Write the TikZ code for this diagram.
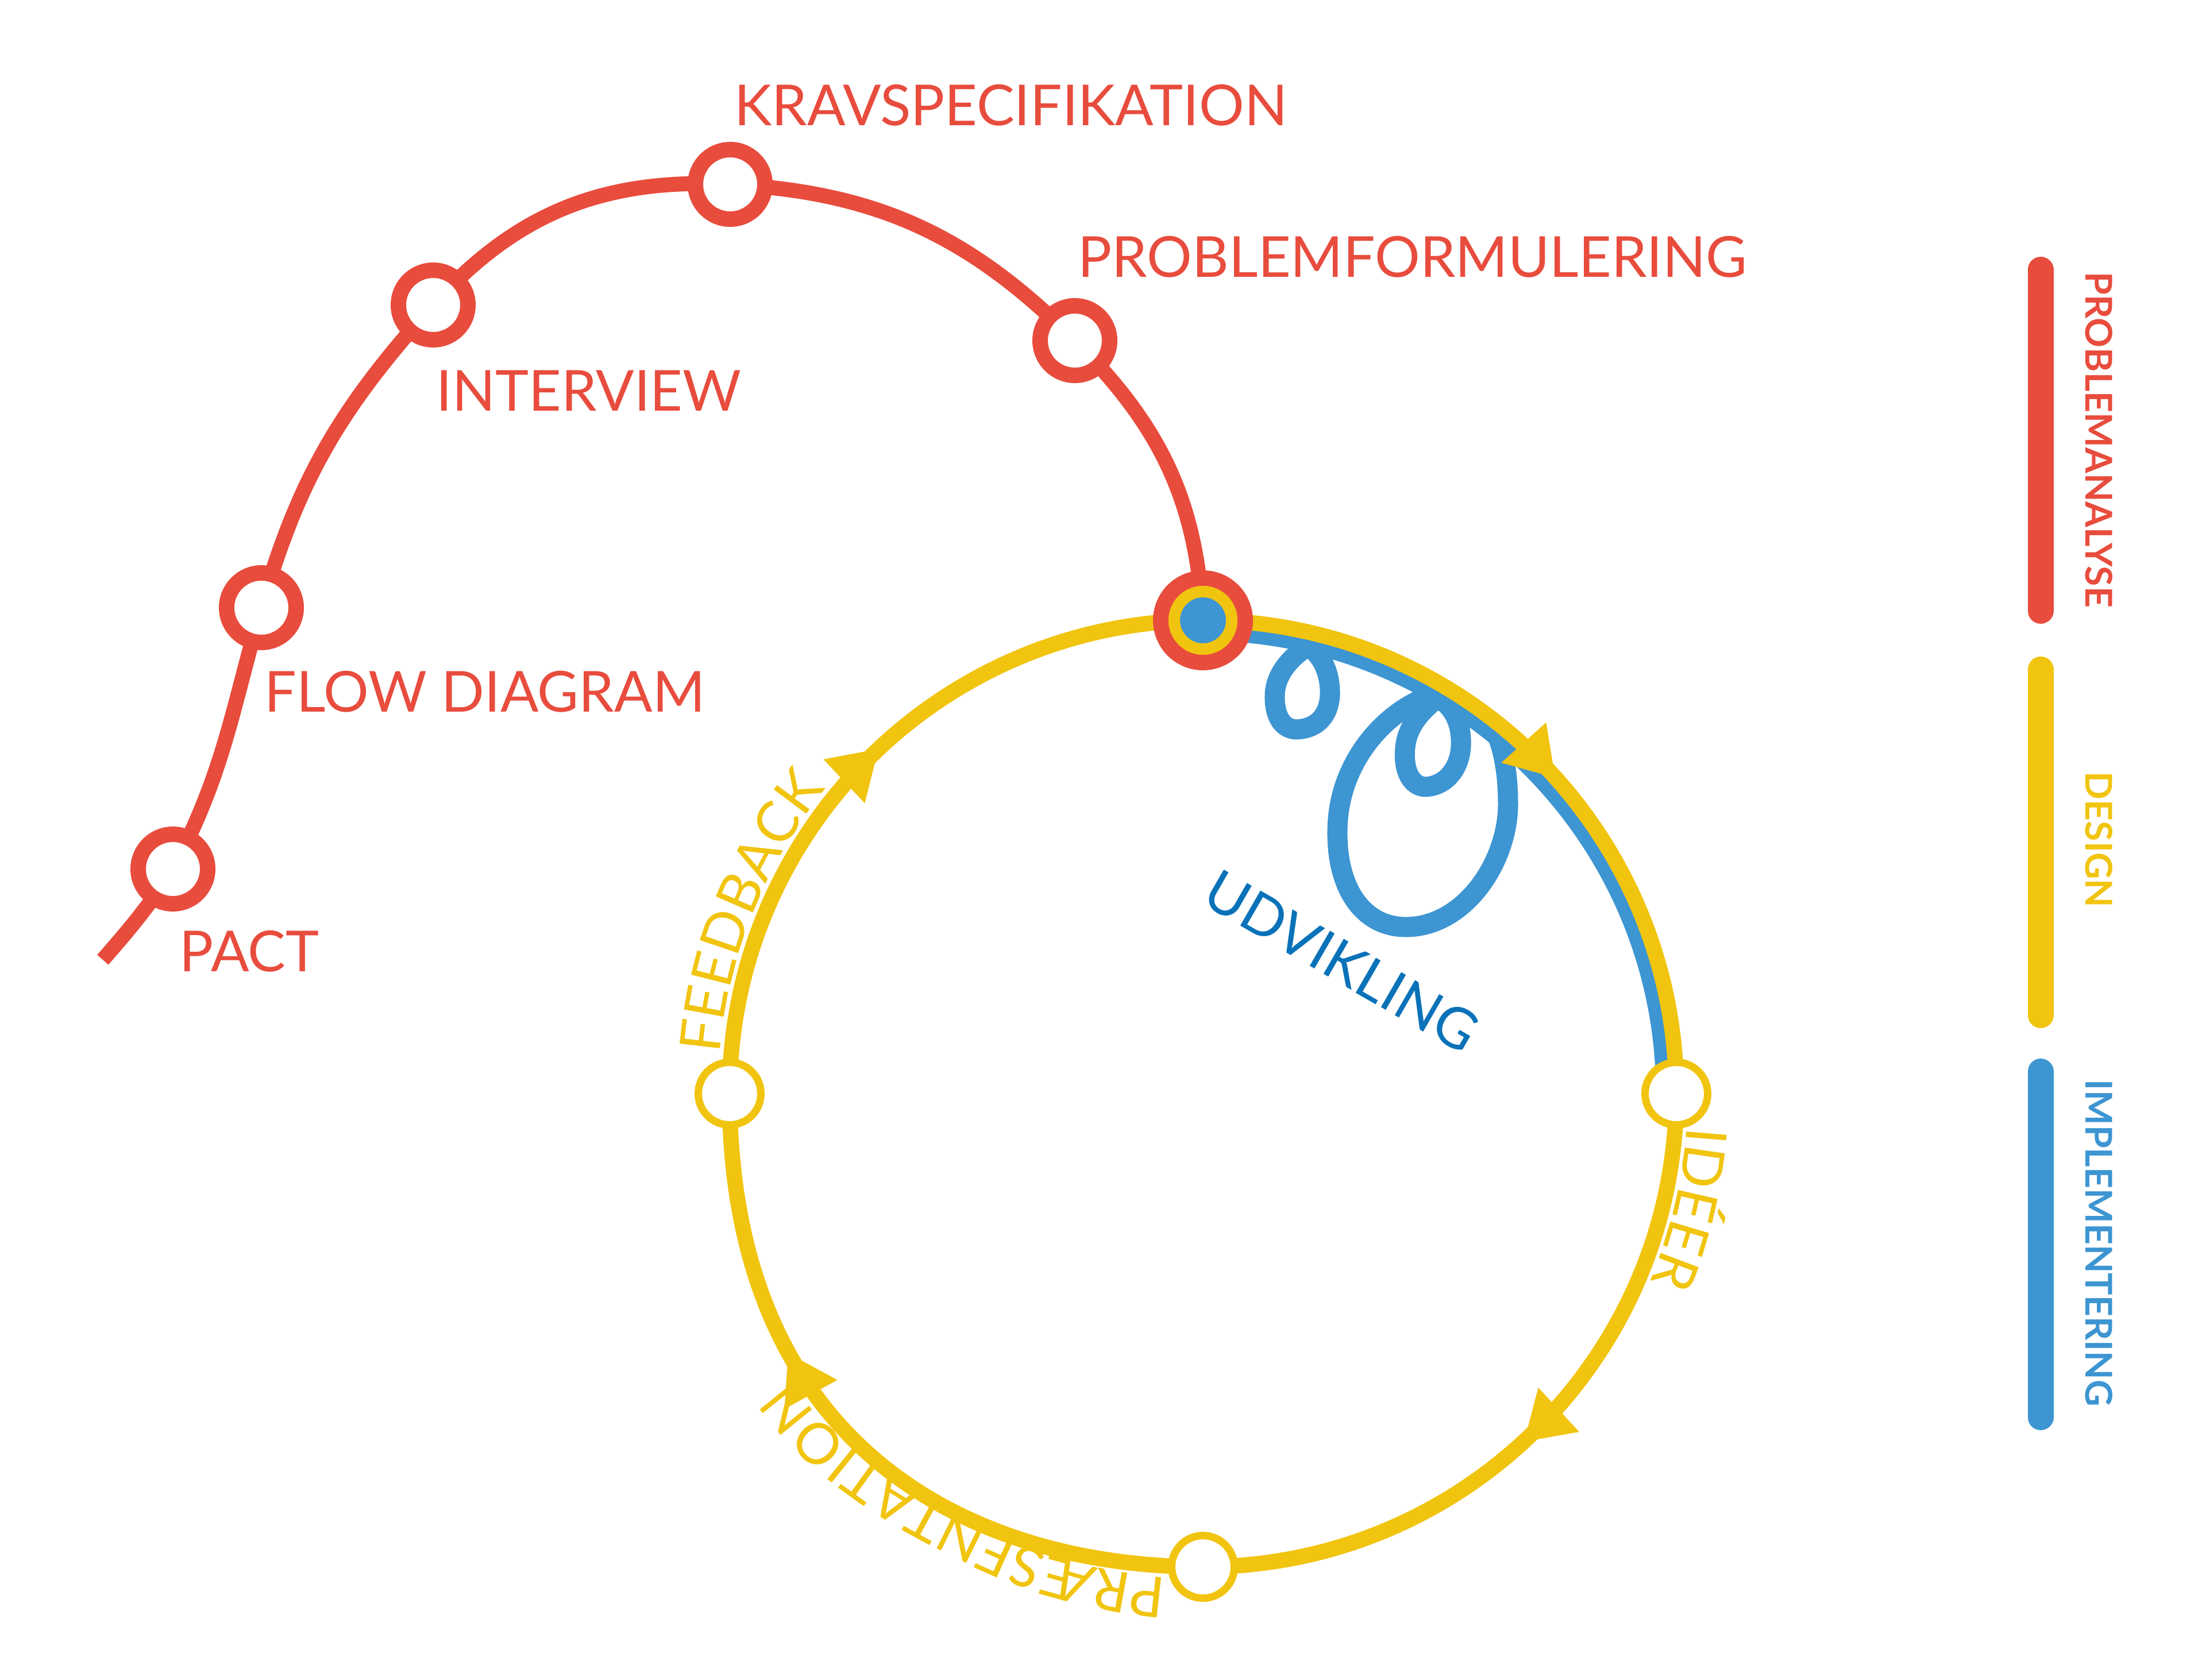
\documentclass[tikz,border=0pt]{standalone}
\usepackage{fontspec}
\setmainfont{Lato}
\usetikzlibrary{decorations.text,calc}
\definecolor{rd}{HTML}{E84C3D}
\definecolor{ylw}{HTML}{F1C40F}
\definecolor{bl}{HTML}{3D95D2}
\definecolor{dbl}{HTML}{0A72B8}
\pgfdeclarelayer{bg}
\pgfsetlayers{bg,main}
\tikzset{
 rnode/.style={circle, draw=rd, line width=0.27cm, fill=white, minimum size=1.21cm, inner sep=0pt},
 ynode/.style={circle, draw=ylw, line width=0.13cm, fill=white, minimum size=1.09cm, inner sep=0pt},
 rlabel/.style={text=rd, font=\fontsize{28}{34}\selectfont, anchor=base west, inner sep=0pt},
 rpath/.style={draw=rd, line width=0.26cm},
 ypath/.style={draw=ylw, line width=0.27cm},
 bpath/.style={draw=bl, line width=0.35cm, line join=round, line cap=round},
 legtext/.style={font=\fontsize{18.3}{22}\selectfont\bfseries, rotate=-90, anchor=base, inner sep=0pt},
 legbar/.style={line width=0.45cm, line cap=round},
 yarrow/.pic={\fill[ylw] (0,0) -- (-0.82,0.525) -- (-0.82,-0.525) -- cycle;}
}
\begin{document}
\begin{tikzpicture}
\useasboundingbox (0,0) rectangle (38.40,-29.24);
\begin{pgfonlayer}{bg}
\fill[white] (0,0) rectangle (38.40,-29.24);
\end{pgfonlayer}

% nodes
\node[rnode] (pact) at (3.01,-15.13) {};
\node[rnode] (flow) at (4.55,-10.58) {};
\node[rnode] (intv) at (7.54,-5.31) {};
\node[rnode] (krav) at (12.71,-3.21) {};
\node[rnode] (probf) at (18.71,-5.93) {};
\node[circle, draw=rd, line width=0.27cm, fill=ylw, minimum size=1.47cm, inner sep=0pt] (junc) at (20.94,-10.80) {};
\node[circle, draw=ylw, line width=0.2cm, fill=bl, minimum size=1.0cm, inner sep=0pt] (juncin) at (junc) {};
\node[ynode] (idea) at (29.18,-19.04) {};
\node[ynode] (prae) at (20.94,-27.28) {};
\node[ynode] (fdbk) at (12.70,-19.04) {};
\coordinate (ctr) at (20.94,-19.04);
\coordinate (rstart) at (1.79,-16.71);

\begin{pgfonlayer}{bg}
% red line
\draw[rpath] (rstart) to[out=49,in=237] (pact.center)
  to[out=62,in=254] (flow.center)
  to[out=74,in=228] (intv.center)
  to[out=48,in=177] (krav.center)
  to[out=-3,in=135] (probf.center)
  to[out=-45,in=93] (junc.center);
% blue line with loops
\draw[bpath] ($(junc.center)+(0,-0.18)$) arc[start angle=90, end angle=0, radius=8.06];
\draw[bpath] (22.77,-11.25) .. controls (23.00,-11.40) and (23.16,-11.70) .. (23.15,-12.10)
  .. controls (23.13,-12.50) and (22.88,-12.70) .. (22.55,-12.70)
  .. controls (22.28,-12.68) and (22.18,-12.40) .. (22.19,-12.10)
  .. controls (22.20,-11.75) and (22.45,-11.45) .. cycle;
\draw[bpath] (25.03,-12.15) .. controls (25.30,-12.30) and (25.45,-12.60) .. (25.43,-13.00)
  .. controls (25.40,-13.45) and (25.10,-13.70) .. (24.80,-13.70)
  .. controls (24.55,-13.68) and (24.44,-13.40) .. (24.455,-13.10)
  .. controls (24.46,-12.70) and (24.70,-12.40) .. cycle;
\draw[bpath] (25.00,-12.08) .. controls (24.20,-12.30) and (23.30,-13.20) .. (23.28,-14.44)
  .. controls (23.26,-15.50) and (23.75,-16.14) .. (24.47,-16.14)
  .. controls (25.50,-16.14) and (26.25,-15.00) .. (26.25,-14.00)
  .. controls (26.25,-13.50) and (26.18,-13.10) .. (26.07,-12.83);
% yellow cycle
\draw[ypath] (junc.center) arc[start angle=90,end angle=-90,radius=8.24]
  .. controls +(-4.0,0) and +(0,-6.2) .. (fdbk.center)
  arc[start angle=180,end angle=90,radius=8.24];
\pic[rotate=-48.1] at (27.07,-13.54) {yarrow};
\pic[rotate=-137.3] at (26.53,-25.10) {yarrow};
\pic[rotate=118.8] at (13.72,-23.56) {yarrow};
\pic[rotate=43.3] at (15.29,-13.04) {yarrow};
\end{pgfonlayer}

% curved labels
\path[decorate, decoration={text along path, text align=left,
  text={|\color{ylw}\fontsize{28}{34}\selectfont|FEEDBACK}}]
  ($(ctr)+(175.3:8.44)$) arc[start angle=175.3, end angle=115, radius=8.44];
\path[decorate, decoration={text along path, text align=left,
  text={|\color{ylw}\fontsize{28}{34}\selectfont|IDÉER}}]
  ($(ctr)+(-3.9:8.44)$) arc[start angle=-3.9, end angle=-50, radius=8.44];
\path[decorate, decoration={text along path, text align=left,
  text={|\color{ylw}\fontsize{28}{34}\selectfont|PRÆSENTATION}}]
  ($(ctr)+(-94.3:8.45)$) arc[start angle=-94.3, end angle=-115, radius=8.45]
  .. controls +(155:3.2) and +(0,-4.8) .. ($(ctr)+(-8.455,0)$) -- ++(0,3);

\node[text=dbl, font=\fontsize{28}{34}\selectfont, anchor=base, rotate=-30, inner sep=0pt] (udv) at (23.18,-17.04) {UDVIKLING};

% red labels
\node[rlabel] (lpact) at (3.12,-16.91) {PACT};
\node[rlabel] (lflow) at (4.60,-12.39) {FLOW DIAGRAM};
\node[rlabel] (lintv) at (7.59,-7.15) {INTERVIEW};
\node[rlabel] (lkrav) at (12.78,-2.18) {KRAVSPECIFIKATION};
\node[rlabel] (lprob) at (18.76,-4.82) {PROBLEMFORMULERING};

% legend
\draw[legbar, rd] (35.52,-4.695) -- (35.52,-10.635);
\draw[legbar, ylw] (35.52,-11.655) -- (35.52,-17.675);
\draw[legbar, bl] (35.52,-18.655) -- (35.52,-24.675);
\node[legtext, text=rd] (lpa) at (36.30,-7.655) {PROBLEMANALYSE};
\node[legtext, text=ylw] (lde) at (36.30,-14.62) {DESIGN};
\node[legtext, text=bl] (lim) at (36.30,-21.64) {IMPLEMENTERING};
\end{tikzpicture}
\end{document}
